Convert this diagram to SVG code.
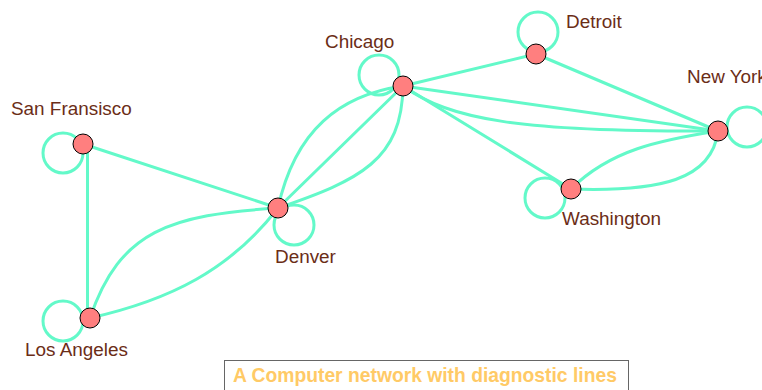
<svg xmlns="http://www.w3.org/2000/svg" width="762" height="390" viewBox="0 0 762 390">
  <style>
    .edge { fill: none; stroke: #63f9c9; stroke-width: 3; stroke-linecap: round; }
    .node { fill: #ff7f7f; stroke: #000; stroke-width: 1; }
    .label { font-family: "Liberation Sans", Arial, sans-serif; font-size: 18.9px; fill: #6b2d17; }
    .title { font-family: "Liberation Sans", Arial, sans-serif; font-size: 19.3px; font-weight: bold; fill: #ffca66; }
  </style>
  <rect width="762" height="390" fill="#fff"/>

  <!-- connectors and self-loops -->
  <g id="connectors">
    <circle class="edge" cx="63" cy="153" r="20"/>
    <circle class="edge" cx="63" cy="321" r="20"/>
    <circle class="edge" cx="294" cy="225" r="20"/>
    <circle class="edge" cx="379" cy="75" r="20"/>
    <circle class="edge" cx="538" cy="32" r="20"/>
    <circle class="edge" cx="747" cy="127" r="20"/>
    <circle class="edge" cx="545" cy="198" r="20"/>

    <line class="edge" x1="87.5" y1="146" x2="87.5" y2="316"/>
    <line class="edge" x1="83" y1="144" x2="278" y2="208"/>
    <path class="edge" d="M90,318 C120,230 170,215 278,208"/>
    <path class="edge" d="M90,318 C170,300 230,270 278,208"/>
    <line class="edge" x1="278" y1="208" x2="403" y2="86"/>
    <path class="edge" d="M278,208 C295,130 340,95 403,86"/>
    <path class="edge" d="M403,86 C402,160 360,180 278,208"/>
    <line class="edge" x1="403" y1="86" x2="536" y2="54"/>
    <line class="edge" x1="536" y1="54" x2="718" y2="131"/>
    <line class="edge" x1="403" y1="86" x2="718" y2="131"/>
    <path class="edge" d="M403,86 C450,120 520,132 718,131"/>
    <line class="edge" x1="403" y1="86" x2="571" y2="189"/>
    <path class="edge" d="M571,189 C610,150 660,140 718,131"/>
    <path class="edge" d="M571,189 C660,192 712,180 718,131"/>
  </g>

  <g id="san-fransisco">
    <circle class="node" cx="83" cy="144" r="10"/>
    <text class="label" x="11" y="115">San Fransisco</text>
  </g>
  <g id="los-angeles">
    <circle class="node" cx="90" cy="318" r="10"/>
    <text class="label" x="25" y="356">Los Angeles</text>
  </g>
  <g id="denver">
    <circle class="node" cx="278" cy="208" r="10"/>
    <text class="label" x="275" y="263">Denver</text>
  </g>
  <g id="chicago">
    <circle class="node" cx="403" cy="86" r="10"/>
    <text class="label" x="325" y="48">Chicago</text>
  </g>
  <g id="detroit">
    <circle class="node" cx="536" cy="54" r="10"/>
    <text class="label" x="566" y="28">Detroit</text>
  </g>
  <g id="new-york">
    <circle class="node" cx="718" cy="131" r="10"/>
    <text class="label" x="687" y="83">New York</text>
  </g>
  <g id="washington">
    <circle class="node" cx="571" cy="189" r="10"/>
    <text class="label" x="562" y="225">Washington</text>
  </g>

  <g id="caption">
    <rect x="224.5" y="360.5" width="404" height="40" fill="#fff" stroke="#666" stroke-width="1"/>
    <text class="title" x="233" y="382">A Computer network with diagnostic lines</text>
  </g>
</svg>
